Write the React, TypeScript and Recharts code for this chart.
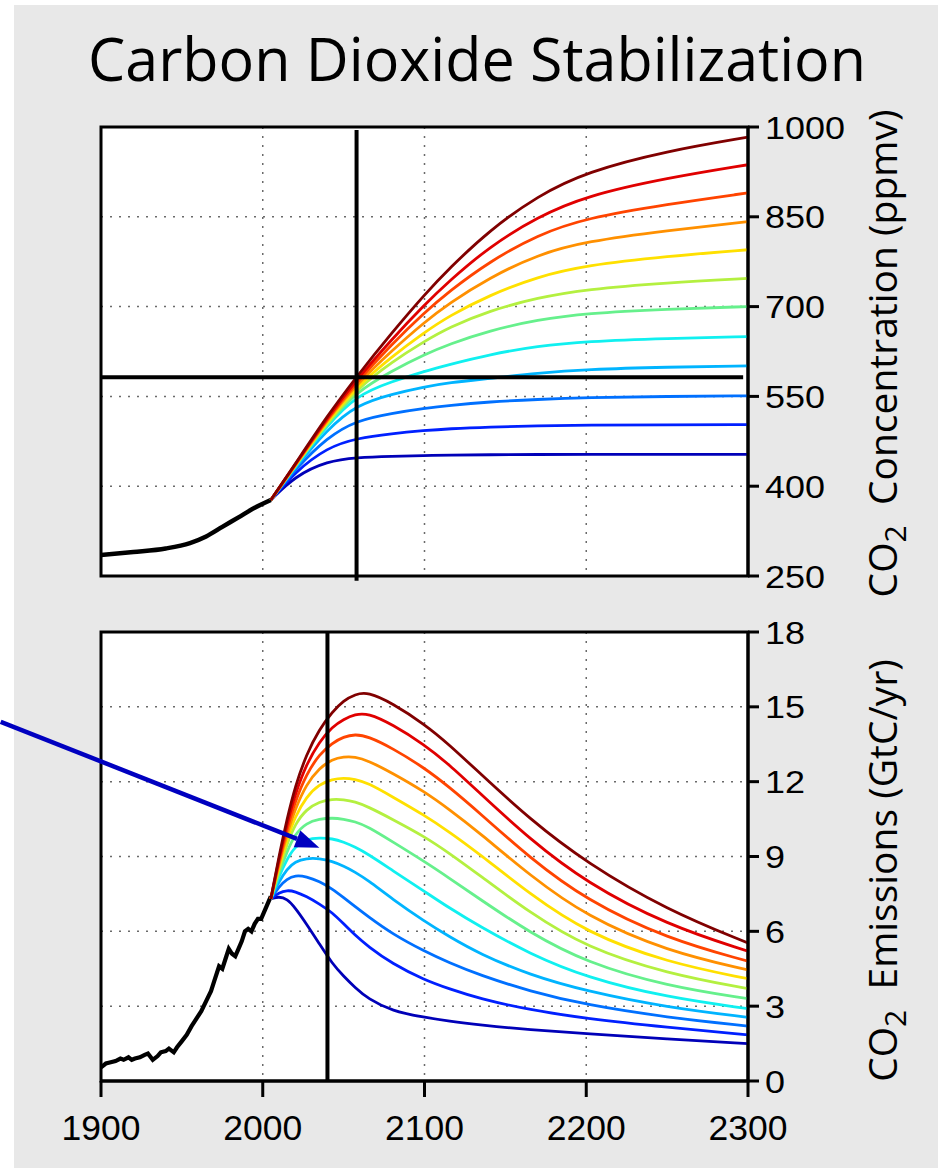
import React from "react";
import { LineChart, Line, XAxis, YAxis, CartesianGrid, ReferenceLine, ReferenceArea } from "recharts";

// historical record
const histConcYears = [1900, 1920, 1940, 1955, 1965, 1975, 1985, 1995, 2005];
const histConc = [285, 290, 296, 305, 316, 332, 348, 364, 377];

const histEmisYears = [1900, 1903, 1906, 1909, 1912, 1914, 1917, 1919, 1921, 1924, 1927, 1929, 1932, 1935, 1937, 1940, 1942, 1945, 1947, 1950, 1953, 1956, 1959, 1962, 1965, 1968, 1970, 1973, 1975, 1977, 1979, 1981, 1983, 1985, 1987, 1989, 1991, 1993, 1995, 1997, 1999, 2001, 2003, 2005];
const histEmis = [0.55, 0.7, 0.75, 0.8, 0.9, 0.85, 0.95, 0.85, 0.9, 0.95, 1.05, 1.1, 0.85, 1.0, 1.15, 1.2, 1.3, 1.15, 1.35, 1.6, 1.85, 2.2, 2.5, 2.8, 3.2, 3.6, 4.0, 4.6, 4.5, 4.9, 5.3, 5.1, 5.0, 5.3, 5.6, 6.0, 6.1, 6.0, 6.3, 6.5, 6.5, 6.8, 7.1, 7.4];

// stabilization scenarios: CO2 concentration (ppmv)
const concYears = [2005, 2020, 2040, 2058, 2080, 2100, 2115, 2140, 2170, 2200, 2250, 2300];
const conc450 = [377, 417, 442, 448, 450, 451, 452, 452.5, 453, 453, 453, 453];
const conc500 = [377, 424, 465, 480, 488, 493, 496, 499, 501, 502, 502.5, 503];
const conc550 = [377, 428, 482, 510, 522, 530, 535, 541, 545, 548, 550, 551];
const conc600 = [377, 431, 495, 536, 554, 566, 573, 580, 589, 595, 599, 601];
const conc650 = [377, 433, 502, 552, 575, 592, 603, 620, 634, 642, 647, 650];
const conc700 = [377, 433.5, 505, 558, 593, 620, 637, 660, 678, 689, 696, 700];
const conc750 = [377, 434, 507, 562, 608, 642, 665, 693, 715, 729, 740, 747];
const conc800 = [377, 434.5, 509, 566, 617, 657, 684, 719, 750, 769, 784, 795];
const conc850 = [377, 435, 511, 570, 627, 674, 705, 748, 787, 809, 827, 842];
const conc900 = [377, 435.5, 513, 574, 638, 690, 725, 775, 820, 848, 871, 890];
const conc950 = [377, 436, 515, 578, 646, 703, 742, 800, 850, 885, 915, 937];
const conc1000 = [377, 437, 518, 583, 657, 720, 763, 827, 885, 925, 960, 983];

// stabilization scenarios: CO2 emissions (GtC/yr)
const emisYears = [2005, 2010, 2015, 2020, 2027, 2035, 2043, 2050, 2057, 2065, 2080, 2100, 2115, 2134, 2165, 2200, 2250, 2300];
const emis450 = [7.3, 7.4, 7.3, 6.95, 6.3, 5.5, 4.7, 4.2, 3.75, 3.3, 2.8, 2.55, 2.4, 2.25, 2.05, 1.9, 1.68, 1.5];
const emis500 = [7.3, 7.55, 7.65, 7.6, 7.4, 7.1, 6.75, 6.3, 5.85, 5.4, 4.7, 4.05, 3.7, 3.3, 2.85, 2.5, 2.15, 1.85];
const emis550 = [7.3, 7.8, 8.1, 8.25, 8.2, 8.0, 7.7, 7.35, 7.0, 6.6, 5.9, 5.2, 4.75, 4.25, 3.6, 3.05, 2.55, 2.2];
const emis600 = [7.3, 8.0, 8.5, 8.8, 8.93, 8.93, 8.8, 8.62, 8.38, 8.05, 7.3, 6.4, 5.8, 5.1, 4.25, 3.6, 2.95, 2.55];
const emis650 = [7.3, 8.2, 8.9, 9.4, 9.7, 9.75, 9.72, 9.58, 9.38, 9.1, 8.45, 7.6, 6.95, 6.2, 5.1, 4.15, 3.35, 2.9];
const emis700 = [7.3, 8.35, 9.2, 9.9, 10.35, 10.5, 10.55, 10.5, 10.4, 10.2, 9.6, 8.8, 8.15, 7.3, 5.95, 4.75, 3.8, 3.3];
const emis750 = [7.3, 8.5, 9.5, 10.3, 10.9, 11.2, 11.3, 11.28, 11.2, 11.0, 10.5, 9.8, 9.15, 8.25, 6.75, 5.35, 4.3, 3.7];
const emis800 = [7.3, 8.6, 9.7, 10.6, 11.4, 11.9, 12.1, 12.15, 12.1, 11.95, 11.4, 10.65, 10.0, 9.1, 7.5, 5.95, 4.75, 4.1];
const emis850 = [7.3, 8.7, 9.9, 10.9, 11.9, 12.55, 12.9, 13.0, 13.0, 12.85, 12.35, 11.6, 10.9, 9.95, 8.25, 6.6, 5.2, 4.45];
const emis900 = [7.3, 8.8, 10.1, 11.2, 12.3, 13.1, 13.55, 13.8, 13.9, 13.82, 13.35, 12.55, 11.8, 10.75, 8.95, 7.25, 5.7, 4.8];
const emis950 = [7.3, 8.9, 10.3, 11.5, 12.7, 13.6, 14.2, 14.5, 14.7, 14.75, 14.3, 13.48, 12.7, 11.55, 9.7, 7.95, 6.25, 5.2];
const emis1000 = [7.3, 9.0, 10.5, 11.8, 13.1, 14.1, 14.8, 15.25, 15.5, 15.6, 15.15, 14.3, 13.5, 12.35, 10.5, 8.75, 6.85, 5.53];

const yearTicks = [1900, 2000, 2100, 2200, 2300];
const concTicks = [250, 400, 550, 700, 850, 1000];
const emisTicks = [0, 3, 6, 9, 12, 15, 18];

// marker lines
const concMarkYear = 2058;
const concMarkLevel = 582;
const emisMarkYear = 2040;
const arrowFrom = { x: 1838, y: 14.4 };
const arrowTo = { x: 2035, y: 9.35 };

const scenarios = [
  { name: "450", color: "#0000b8", conc: conc450, emis: emis450 },
  { name: "500", color: "#0020ff", conc: conc500, emis: emis500 },
  { name: "550", color: "#0070ff", conc: conc550, emis: emis550 },
  { name: "600", color: "#00b4ff", conc: conc600, emis: emis600 },
  { name: "650", color: "#10f0f0", conc: conc650, emis: emis650 },
  { name: "700", color: "#66f08c", conc: conc700, emis: emis700 },
  { name: "750", color: "#b4f040", conc: conc750, emis: emis750 },
  { name: "800", color: "#ffe000", conc: conc800, emis: emis800 },
  { name: "850", color: "#ff9000", conc: conc850, emis: emis850 },
  { name: "900", color: "#ff4400", conc: conc900, emis: emis900 },
  { name: "950", color: "#e00000", conc: conc950, emis: emis950 },
  { name: "1000", color: "#800000", conc: conc1000, emis: emis1000 },
];

const toPoints = (years: number[], vals: number[]) => years.map((year, i) => ({ year, value: vals[i] }));

const TICK_FONT = "'Liberation Sans', Arial, sans-serif";
const LABEL_FONT = "'Open Sans', 'Noto Sans', sans-serif";

const YTick = (props: any) => {
  const { x, y, payload } = props;
  const s = String(payload.value);
  return (
    <text x={x + 4} y={y + 11.5} fontFamily={TICK_FONT} fontSize={32} fill="#000"
      textLength={s.length * 20} lengthAdjust="spacingAndGlyphs">{s}</text>
  );
};

const XTick = (props: any) => {
  const { x, y, payload } = props;
  const s = String(payload.value);
  return (
    <text x={x} y={y + 41} textAnchor="middle" fontFamily={TICK_FONT} fontSize={35} fill="#000"
      textLength={79} lengthAdjust="spacingAndGlyphs">{s}</text>
  );
};

const AxisTitle = (props: any) => {
  const { viewBox, text, shift } = props;
  const cx = viewBox.x + 149;
  const cy = viewBox.y + viewBox.height / 2 + shift;
  return (
    <text x={cx} y={cy} transform={`rotate(-90 ${cx} ${cy})`} textAnchor="middle"
      fontFamily={LABEL_FONT} fontSize={39} fill="#000">
      <tspan>CO</tspan>
      <tspan baselineShift="-30%" fontSize={30}>2</tspan>
      <tspan>{"\u00a0\u00a0" + text}</tspan>
    </text>
  );
};

const Arrow = (p: any) => {
  const { x1, y1, x2, y2 } = p;
  const ang = Math.atan2(y2 - y1, x2 - x1);
  const len = 24, half = 9;
  const bx = x2 - len * Math.cos(ang);
  const by = y2 - len * Math.sin(ang);
  const px = -Math.sin(ang) * half;
  const py = Math.cos(ang) * half;
  return (
    <g>
      <line x1={x1} y1={y1} x2={bx} y2={by} stroke="#0000c0" strokeWidth={4.5} />
      <polygon points={`${x2},${y2} ${bx + px},${by + py} ${bx - px},${by - py}`} fill="#0000c0" />
    </g>
  );
};

const gridProps = { fill: "#fff", stroke: "#6a6a6a", strokeDasharray: "2 7", strokeWidth: 1.5 };

export default function App() {
  return (
    <div style={{ position: "absolute", left: 0, top: 0, width: 938, height: 1168, background: "#fff", overflow: "hidden" }}>
      <div style={{ position: "absolute", left: 14, top: 5, right: 0, bottom: 0, background: "#e8e8e8" }} />

      <svg width={938} height={110} style={{ position: "absolute", left: 0, top: 0 }}>
        <text x={477} y={81} textAnchor="middle" fontFamily={LABEL_FONT} fontSize={60} fill="#000"
          textLength={778} lengthAdjust="spacingAndGlyphs">Carbon Dioxide Stabilization</text>
      </svg>

      {/* top: concentration */}
      <div style={{ position: "absolute", left: 0, top: 0 }}>
        <LineChart width={938} height={600} margin={{ top: 127, right: 30, bottom: 24, left: 101 }}>
          <CartesianGrid {...gridProps} verticalValues={[2000, 2100, 2200]} horizontalValues={[400, 550, 700, 850]} />
          <XAxis type="number" dataKey="year" domain={[1900, 2300]} ticks={yearTicks} allowDataOverflow hide />
          <YAxis type="number" dataKey="value" orientation="right" width={160} domain={[250, 1000]} ticks={concTicks}
            allowDataOverflow interval={0} tick={<YTick />} tickSize={11} tickMargin={2}
            axisLine={{ stroke: "#000", strokeWidth: 3 }} tickLine={{ stroke: "#000", strokeWidth: 3 }}
            label={<AxisTitle text="Concentration (ppmv)" shift={2} />} />
          <ReferenceArea x1={1900} x2={2300} y1={250} y2={1000} fill="none" fillOpacity={0}
            stroke="#000" strokeWidth={3} ifOverflow="visible" />
          <Line data={toPoints(histConcYears, histConc)} dataKey="value" type="monotone" stroke="#000"
            strokeWidth={4.5} dot={false} isAnimationActive={false} />
          {scenarios.map((s) => (
            <Line key={s.name} data={toPoints(concYears, s.conc)} dataKey="value" type="basis"
              stroke={s.color} strokeWidth={2.8} dot={false} isAnimationActive={false} />
          ))}
          <ReferenceLine segment={[{ x: concMarkYear, y: 995 }, { x: concMarkYear, y: 242 }]} stroke="#000"
            strokeWidth={4} ifOverflow="visible" />
          <ReferenceLine segment={[{ x: 1900, y: concMarkLevel }, { x: 2297, y: concMarkLevel }]} stroke="#000"
            strokeWidth={4} ifOverflow="visible" />
        </LineChart>
      </div>

      {/* bottom: emissions */}
      <div style={{ position: "absolute", left: 0, top: 600 }}>
        <LineChart width={938} height={568} margin={{ top: 32, right: 30, bottom: 27, left: 101 }}>
          <CartesianGrid {...gridProps} verticalValues={[2000, 2100, 2200]} horizontalValues={[3, 6, 9, 12, 15]} />
          <XAxis type="number" dataKey="year" domain={[1900, 2300]} ticks={yearTicks} allowDataOverflow
            interval={0} height={60} tick={<XTick />} tickSize={16} tickMargin={2}
            axisLine={{ stroke: "#000", strokeWidth: 3 }} tickLine={{ stroke: "#000", strokeWidth: 3 }} />
          <YAxis type="number" dataKey="value" orientation="right" width={160} domain={[0, 18]} ticks={emisTicks}
            allowDataOverflow interval={0} tick={<YTick />} tickSize={11} tickMargin={2}
            axisLine={{ stroke: "#000", strokeWidth: 3 }} tickLine={{ stroke: "#000", strokeWidth: 3 }}
            label={<AxisTitle text="Emissions (GtC/yr)" shift={14} />} />
          <ReferenceArea x1={1900} x2={2300} y1={0} y2={18} fill="none" fillOpacity={0}
            stroke="#000" strokeWidth={3} ifOverflow="visible" />
          <Line data={toPoints(histEmisYears, histEmis)} dataKey="value" type="linear" stroke="#000"
            strokeWidth={4.2} dot={false} isAnimationActive={false} />
          {scenarios.map((s) => (
            <Line key={s.name} data={toPoints(emisYears, s.emis)} dataKey="value" type="basis"
              stroke={s.color} strokeWidth={2.8} dot={false} isAnimationActive={false} />
          ))}
          <ReferenceLine x={emisMarkYear} stroke="#000" strokeWidth={4} ifOverflow="visible" />
          <ReferenceLine segment={[arrowFrom, arrowTo]} ifOverflow="visible" shape={<Arrow />} />
        </LineChart>
      </div>
    </div>
  );
}
